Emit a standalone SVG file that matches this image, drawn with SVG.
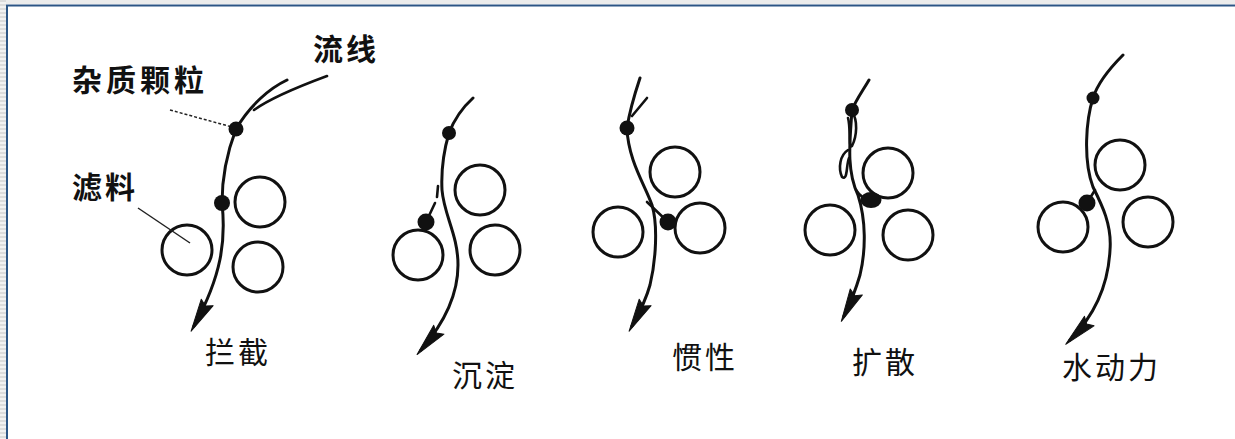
<svg xmlns="http://www.w3.org/2000/svg" width="1235" height="439" viewBox="0 0 1235 439">
  <style>
    .flow { fill: none; stroke: #111; stroke-width: 3; stroke-linecap: round; marker-end: url(#dart); }
    .thin { fill: none; stroke: #111; stroke-width: 2.6; stroke-linecap: round; }
    .grain { fill: #fff; stroke: #111; stroke-width: 3; }
    .dot { fill: #111; }
    .lead { fill: none; stroke: #222; stroke-width: 1.5; }
    .lbl { font-family: "Noto Sans CJK SC", "Noto Sans", sans-serif; font-size: 30px; fill: #111; letter-spacing: 3px; }
    .bold { font-weight: bold; }
  </style>
  <defs>
    <marker id="dart" markerUnits="userSpaceOnUse" orient="auto" markerWidth="40" markerHeight="20" refX="0" refY="0" overflow="visible">
      <path d="M6,0 L-27,-7 L-23,-0.5 L-27,6.5 Z" fill="#111" stroke="#111" stroke-width="1" stroke-linejoin="round"/>
    </marker>
    <pattern id="stripes" width="6" height="4" patternUnits="userSpaceOnUse">
      <rect width="6" height="4" fill="#f2f2f2"/>
      <rect width="6" height="2" fill="#dcdcdc"/>
    </pattern>
  </defs>

  <!-- page background and frame -->
  <rect width="1235" height="439" fill="#fff"/>
  <rect x="0" y="0" width="1235" height="4" fill="#ececec"/>
  <rect x="0" y="0" width="6" height="439" fill="url(#stripes)"/>
  <line x1="6" y1="5.5" x2="1235" y2="5.5" stroke="#2c5585" stroke-width="2"/>
  <line x1="7" y1="5" x2="7" y2="439" stroke="#2c5585" stroke-width="2"/>

  <!-- filter grains -->
  <g id="interception-grains">
    <circle class="grain" cx="260" cy="202" r="25"/>
    <circle class="grain" cx="258" cy="267" r="25"/>
    <circle class="grain" cx="187" cy="250" r="25"/>
  </g>
  <g id="sedimentation-grains">
    <circle class="grain" cx="480" cy="190" r="25"/>
    <circle class="grain" cx="495" cy="250" r="25"/>
    <circle class="grain" cx="418" cy="255" r="25"/>
  </g>
  <g id="inertia-grains">
    <circle class="grain" cx="675" cy="172" r="25"/>
    <circle class="grain" cx="700" cy="228" r="25"/>
    <circle class="grain" cx="618" cy="232" r="25"/>
  </g>
  <g id="diffusion-grains">
    <circle class="grain" cx="888" cy="173" r="25"/>
    <circle class="grain" cx="830" cy="230" r="25"/>
    <circle class="grain" cx="908" cy="235" r="25"/>
  </g>
  <g id="hydrodynamic-grains">
    <circle class="grain" cx="1120" cy="165" r="25"/>
    <circle class="grain" cx="1063" cy="227" r="25"/>
    <circle class="grain" cx="1148" cy="222" r="25"/>
  </g>

  <!-- streamlines and particle paths -->
  <g id="connectors">
    <!-- interception -->
    <path class="flow" d="M287,80 C270,88 250,105 236,129 C228,150 222,175 222,203 C226,240 222,275 194,326"/>
    <path class="thin" d="M327,76 C300,86 272,97 254,110"/>
    <!-- sedimentation -->
    <path class="flow" d="M473,98 C462,108 454,120 449,133 C444,150 441,170 442,190 C444,215 458,235 458,265 C458,300 440,328 421,350"/>
    <path class="thin" d="M438,186 L437,197"/>
    <path class="thin" d="M435,203 L427,220"/>
    <!-- inertia -->
    <path class="flow" d="M640,78 C636,90 630,108 627,128 C628,160 645,185 652,205 C658,225 656,260 650,285 C645,303 638,315 632,326"/>
    <path class="thin" d="M647,98 L632,116"/>
    <path class="thin" d="M647,202 L668,222" stroke-width="3.2"/>
    <!-- diffusion -->
    <path class="flow" d="M869,80 C862,92 856,100 852,110 C850,140 846,170 858,195 C866,220 866,250 860,275 C855,292 850,304 844,316"/>
    <path class="thin" d="M852,112 C858,120 857,136 852,146 C848,149 851,128 848,118" stroke-width="3"/>
    <path class="thin" d="M848,150 C840,155 838,168 842,177 C848,181 846,165 849,158" stroke-width="3"/>
    <path class="thin" d="M856,190 C861,198 866,200 872,200" stroke-width="3"/>
    <!-- hydrodynamic -->
    <path class="flow" d="M1123,55 C1110,68 1098,82 1093,98 C1086,120 1083,160 1093,187 C1102,205 1112,225 1110,250 C1108,290 1092,318 1070,340"/>
    <path class="thin" d="M1095,190 L1087,203" stroke-width="3.2"/>
    <!-- label leaders -->
    <path class="lead" d="M170,110 L232,127" stroke-dasharray="3,2"/>
    <path class="lead" d="M138,208 L190,243"/>
  </g>

  <!-- impurity particles -->
  <g id="particles">
    <circle class="dot" cx="236" cy="129" r="7.5"/>
    <circle class="dot" cx="222" cy="203" r="8"/>
    <circle class="dot" cx="449" cy="133" r="7"/>
    <circle class="dot" cx="426" cy="222" r="8.5"/>
    <circle class="dot" cx="627" cy="128" r="7.5"/>
    <circle class="dot" cx="668" cy="222" r="8.5"/>
    <circle class="dot" cx="852" cy="110" r="7"/>
    <ellipse class="dot" cx="871" cy="200" rx="10.5" ry="8"/>
    <circle class="dot" cx="1093" cy="98" r="6.5"/>
    <circle class="dot" cx="1087" cy="203" r="8.5"/>
  </g>

  <!-- labels -->
  <g id="labels">
    <text class="lbl bold" x="313" y="60">流线</text>
    <text class="lbl bold" x="72" y="91" style="letter-spacing:4px">杂质颗粒</text>
    <text class="lbl bold" x="72" y="198">滤料</text>
    <text class="lbl" x="205" y="363">拦截</text>
    <text class="lbl" x="452" y="386">沉淀</text>
    <text class="lbl" x="672" y="368">惯性</text>
    <text class="lbl" x="852" y="373">扩散</text>
    <text class="lbl" x="1062" y="378">水动力</text>
  </g>
</svg>
